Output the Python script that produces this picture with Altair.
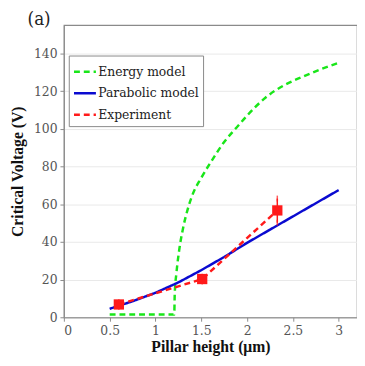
import altair as alt
import pandas as pd

# Energy model curve
energy_x = [0.5, 1.2, 1.205, 1.21, 1.23, 1.26, 1.3, 1.35, 1.4, 1.5, 1.6, 1.75, 1.9, 2.0, 2.2, 2.4, 2.6, 2.8, 3.0]
energy_y = [1.5, 1.5, 1.5, 12, 24, 36, 47, 57, 64.5, 74, 82, 93, 101.5, 107, 116.5, 123, 127.5, 131.5, 135]

# Parabolic model curve
para_x = [0.5, 0.75, 1.0, 1.25, 1.5, 1.75, 2.0, 2.25, 2.5, 2.75, 3.0]
para_y = [4.5, 8.5, 13, 18.5, 25, 32, 39.5, 46.5, 53.5, 60.5, 67.5]

# Experiment
exp_x = [0.6, 1.51, 2.33]
exp_y = [6.8, 20.3, 56.7]
exp_lo = [5.5, 19.0, 50.2]
exp_hi = [8.0, 21.5, 63.0]

series = ["Energy model", "Parabolic model", "Experiment"]
colors = ["#19e619", "#0a0ad0", "#ff1a1a"]

energy_df = pd.DataFrame({"x": energy_x, "y": energy_y, "series": "Energy model"})
other_rows = []
for x, y in zip(para_x, para_y):
    other_rows.append({"x": x, "y": y, "series": "Parabolic model"})
for x, y in zip(exp_x, exp_y):
    other_rows.append({"x": x, "y": y, "series": "Experiment"})
other_df = pd.DataFrame(other_rows)

exp_df = pd.DataFrame({"x": exp_x, "y": exp_y, "lo": exp_lo, "hi": exp_hi})

BFONT = "Liberation Serif"
RFONT = "DejaVu Serif Condensed, DejaVu Serif"

xscale = alt.Scale(domain=[0, 3.2], nice=False)
yscale = alt.Scale(domain=[0, 155], nice=False)

xaxis = alt.Axis(values=[0, 0.5, 1, 1.5, 2, 2.5, 3], format="~g", title="Pillar height (μm)",
                 grid=False, tickSize=4, labelPadding=3, titlePadding=1)
yaxis = alt.Axis(values=[0, 20, 40, 60, 80, 100, 120, 140], title="Critical Voltage (V)",
                 grid=True, tickSize=4, labelPadding=3, titlePadding=8)

color = alt.Color("series:N", scale=alt.Scale(domain=series, range=colors),
                  legend=alt.Legend(title=None, orient="none", legendX=5, legendY=31,
                                    symbolType="stroke", symbolSize=500, symbolStrokeWidth=2.5,
                                    labelFont=RFONT, labelFontSize=14, labelColor="#222",
                                    strokeColor="#888", fillColor="white",
                                    padding=4, rowPadding=2, labelOffset=1))
dash = alt.StrokeDash("series:N", scale=alt.Scale(domain=series, range=[[6, 4], [1, 0], [6, 4]]),
                      legend=None)

energy = alt.Chart(energy_df).mark_line(strokeWidth=2.5, interpolate="monotone").encode(
    x=alt.X("x:Q", scale=xscale, axis=xaxis),
    y=alt.Y("y:Q", scale=yscale, axis=yaxis),
    color=color, strokeDash=dash,
)

others = alt.Chart(other_df).mark_line(strokeWidth=2.5).encode(
    x="x:Q", y="y:Q", color=color, strokeDash=dash, detail="series:N",
)

err = alt.Chart(exp_df).mark_rule(color="#ff1a1a", strokeWidth=1.5).encode(
    x="x:Q", y="lo:Q", y2="hi:Q"
)
caps_hi = alt.Chart(exp_df).mark_tick(color="#ff1a1a", size=6, thickness=1.5).encode(
    x="x:Q", y="hi:Q")
caps_lo = alt.Chart(exp_df).mark_tick(color="#ff1a1a", size=6, thickness=1.5).encode(
    x="x:Q", y="lo:Q")

pts = alt.Chart(exp_df).mark_square(color="#ff1a1a", size=110, opacity=1).encode(
    x="x:Q", y="y:Q"
)

label_df = pd.DataFrame({"t": ["(a)"]})
label = alt.Chart(label_df).mark_text(font=RFONT, fontSize=19, align="left", baseline="middle",
                                      color="#222").encode(
    text="t:N", x=alt.value(-37), y=alt.value(-6)
)

chart = alt.layer(energy, others, err, caps_hi, caps_lo, pts, label).properties(
    width=299, height=298,
    autosize=alt.AutoSizeParams(type="none"),
    padding={"left": 57, "top": 14, "right": 0, "bottom": 36},
).configure_view(
    stroke="#8a8a8a", strokeWidth=1.2
).configure_axis(
    labelFont=RFONT, labelFontSize=14, labelColor="#555",
    titleFont=BFONT, titleFontSize=16, titleFontWeight="bold", titleColor="#111",
    domainColor="#8a8a8a", tickColor="#8a8a8a", gridColor="#e8e8e8",
)

chart.save("out.html", embed_options={"renderer": "svg", "actions": False})
